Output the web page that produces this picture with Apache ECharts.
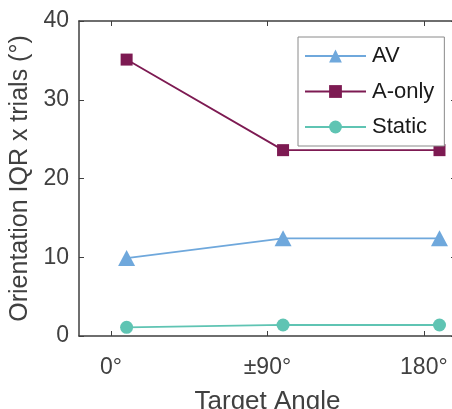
<!DOCTYPE html>
<html>
<head>
<meta charset="utf-8">
<script src="https://cdn.jsdelivr.net/npm/echarts@6/dist/echarts.min.js"></script>
<style>html,body{margin:0;padding:0;background:#fff;}#c{width:452px;height:409px;}</style>
</head>
<body>
<div id="c"></div>
<script>
// Data
var tickValues = [0, 90, 180];
var tickLabels = ['0°', '±90°', '180°'];
var xPositions = [9, 99, 189];
var seriesNames = ['AV', 'A-only', 'Static'];
var avValues = [9.9, 12.4, 12.4];
var aOnlyValues = [35.1, 23.6, 23.6];
var staticValues = [1.1, 1.4, 1.4];

var textColor = '#404040';
var font = 'Liberation Sans, Arial, sans-serif';

function pts(vals) {
  return vals.map(function (v, i) { return [xPositions[i], v]; });
}
function labelFor(v) {
  var i = tickValues.indexOf(v);
  return i >= 0 ? tickLabels[i] : '';
}

var xMin = -18.4, xMax = 198.5;
var axisLineStyle = { color: '#3f3f3f', width: 1.5 };

var chart = echarts.init(document.getElementById('c'), null, { renderer: 'canvas' });
chart.setOption({
  animation: false,
  backgroundColor: '#fff',
  textStyle: { fontFamily: font },
  grid: { left: 79, top: 21, width: 377, height: 315, containLabel: false, outerBoundsMode: 'none' },
  legend: {
    orient: 'vertical',
    left: 298, top: 37,
    data: seriesNames,
    itemWidth: 61, itemHeight: 16, itemGap: 13.5,
    padding: [8, 10, 8, 6],
    backgroundColor: '#fff',
    borderColor: '#8a8a8a', borderWidth: 1, borderRadius: 0,
    textStyle: { color: '#1a1a1a', fontSize: 22, fontFamily: font, padding: [0, 0, 0, 1] }
  },
  xAxis: [{
    type: 'value', min: xMin, max: xMax, position: 'bottom',
    name: 'Target Angle', nameLocation: 'middle', nameGap: 53,
    nameTextStyle: { color: textColor, fontSize: 26, fontFamily: font },
    axisLine: { show: true, onZero: false, lineStyle: axisLineStyle },
    axisTick: { show: true, inside: true, length: 5, customValues: tickValues, lineStyle: { color: '#3f3f3f', width: 1 } },
    axisLabel: { show: true, customValues: tickValues, formatter: labelFor, color: textColor, fontSize: 23, fontFamily: font, margin: 20 },
    splitLine: { show: false }
  }, {
    type: 'value', min: xMin, max: xMax, position: 'top',
    axisLine: { show: true, onZero: false, lineStyle: axisLineStyle },
    axisTick: { show: true, inside: true, length: 5, customValues: tickValues, lineStyle: { color: '#3f3f3f', width: 1 } },
    axisLabel: { show: false },
    splitLine: { show: false }
  }],
  yAxis: [{
    type: 'value', min: 0, max: 40, interval: 10, position: 'left',
    name: 'Orientation IQR x trials (°)', nameLocation: 'middle', nameGap: 43,
    nameTextStyle: { color: textColor, fontSize: 25, fontFamily: font },
    axisLine: { show: true, onZero: false, lineStyle: axisLineStyle },
    axisTick: { show: true, inside: true, length: 5, lineStyle: { color: '#3f3f3f', width: 1 } },
    axisLabel: { color: textColor, fontSize: 23, fontFamily: font, margin: 10 },
    splitLine: { show: false }
  }, {
    type: 'value', min: 0, max: 40, interval: 10, position: 'right',
    axisLine: { show: true, onZero: false, lineStyle: axisLineStyle },
    axisTick: { show: true, inside: true, length: 5, lineStyle: { color: '#3f3f3f', width: 1 } },
    axisLabel: { show: false },
    splitLine: { show: false }
  }],
  series: [{
    name: 'AV', type: 'line', data: pts(avValues),
    symbol: 'triangle', symbolSize: [17, 16],
    itemStyle: { color: '#6fa8dc' }, lineStyle: { color: '#6fa8dc', width: 1.8 }
  }, {
    name: 'A-only', type: 'line', data: pts(aOnlyValues),
    symbol: 'rect', symbolSize: 12,
    itemStyle: { color: '#7d1a52' }, lineStyle: { color: '#7d1a52', width: 1.8 }
  }, {
    name: 'Static', type: 'line', data: pts(staticValues),
    symbol: 'circle', symbolSize: 13,
    itemStyle: { color: '#5fc4b3' }, lineStyle: { color: '#5fc4b3', width: 1.8 }
  }]
});
</script>
</body>
</html>
